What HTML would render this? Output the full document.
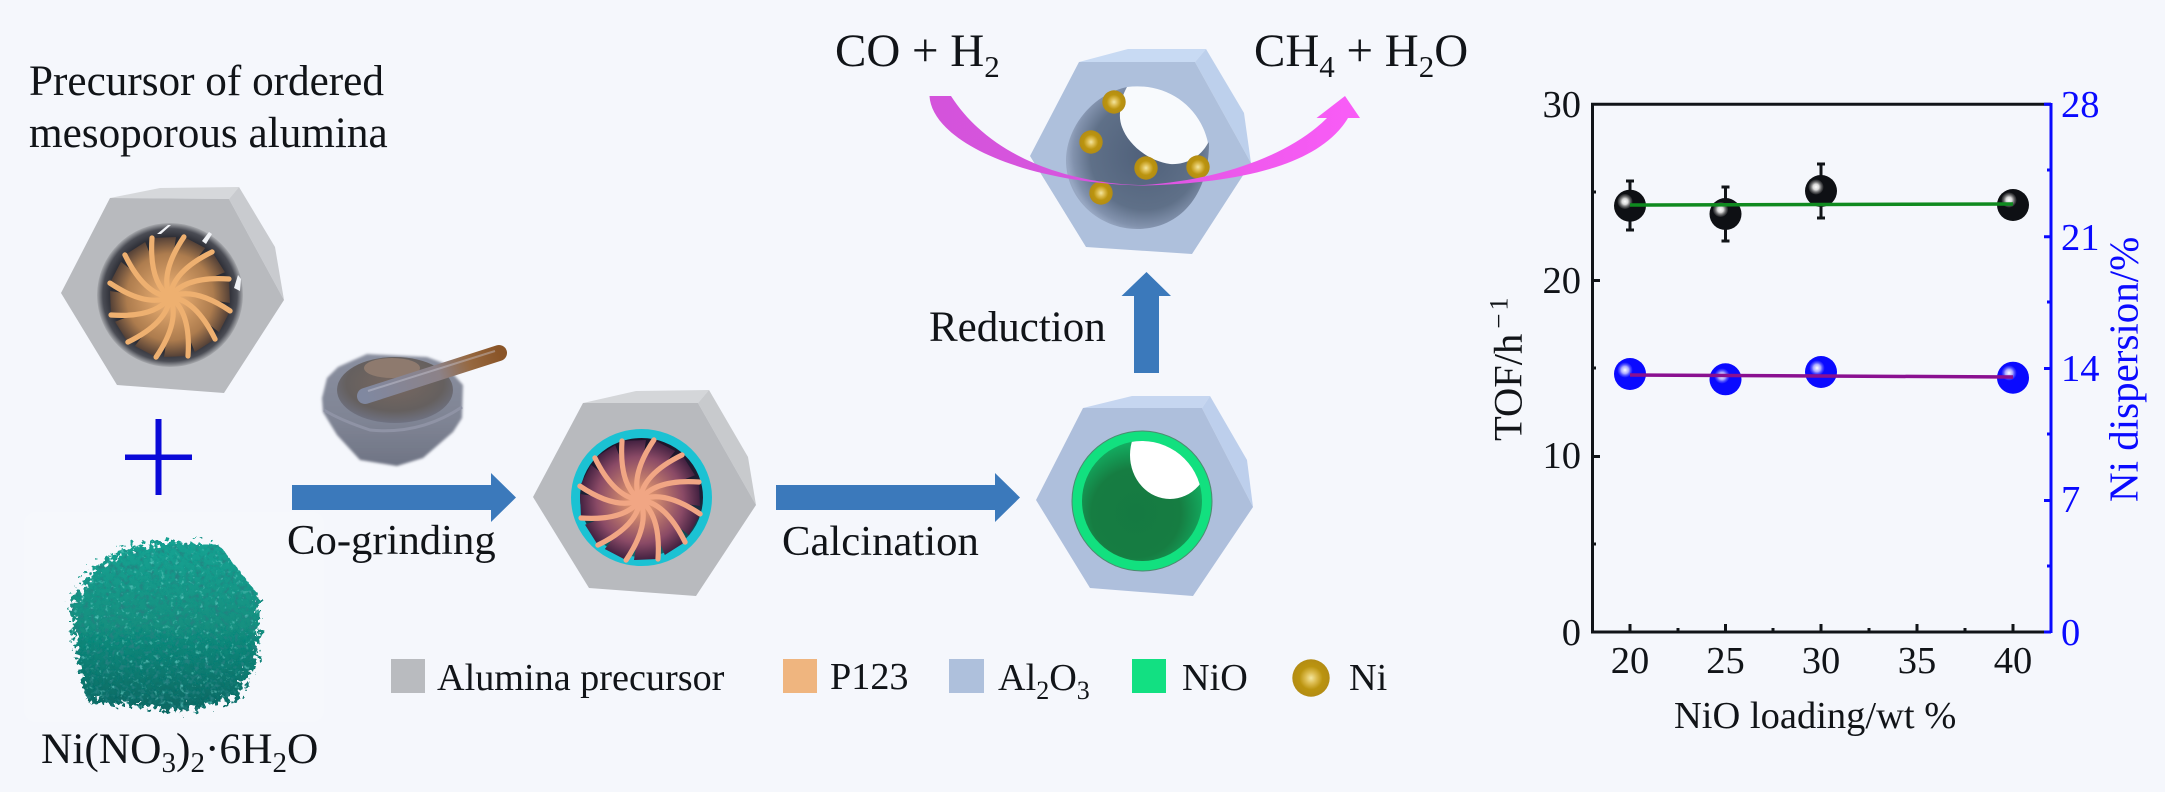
<!DOCTYPE html>
<html><head><meta charset="utf-8"><style>
html,body{margin:0;padding:0;background:#f5f7fc}
svg{display:block}
text{font-family:"Liberation Serif",serif;fill:#111418}
.b{fill:#0a0aff}
</style></head><body>
<svg width="2165" height="792" viewBox="0 0 2165 792" xmlns="http://www.w3.org/2000/svg">
<defs>
<radialGradient id="ni" cx=".5" cy=".5" r=".5"><stop offset="0" stop-color="#f3e6a0"/><stop offset=".3" stop-color="#dcbc50"/><stop offset=".62" stop-color="#bb940f"/><stop offset="1" stop-color="#b38c14"/></radialGradient>
<radialGradient id="in1" cx=".5" cy=".5" r=".5"><stop offset="0" stop-color="#33282a"/><stop offset=".8" stop-color="#2c2d35"/><stop offset=".92" stop-color="#4a4c54"/><stop offset="1" stop-color="#a8aaae"/></radialGradient>
<radialGradient id="w1" gradientUnits="userSpaceOnUse" cx="0" cy="0" r="62"><stop offset=".2" stop-color="#e0a66c"/><stop offset=".7" stop-color="#ad7c4e"/><stop offset="1" stop-color="#4a3a34"/></radialGradient>
<radialGradient id="w2" gradientUnits="userSpaceOnUse" cx="0" cy="0" r="62"><stop offset=".2" stop-color="#d8906e"/><stop offset=".7" stop-color="#8a4a66"/><stop offset="1" stop-color="#3a1c3c"/></radialGradient>
<linearGradient id="in2" x1="0" y1="0" x2="0" y2="1"><stop offset="0" stop-color="#1e1428"/><stop offset=".5" stop-color="#1d2036"/><stop offset=".8" stop-color="#0e4f58"/><stop offset="1" stop-color="#0f7378"/></linearGradient>
<radialGradient id="in3" cx=".45" cy=".6" r=".62"><stop offset="0" stop-color="#157a42"/><stop offset=".6" stop-color="#167d42"/><stop offset="1" stop-color="#12b566"/></radialGradient>
<radialGradient id="in4" gradientUnits="userSpaceOnUse" cx="1145" cy="155" r="78"><stop offset="0" stop-color="#4f607a"/><stop offset=".7" stop-color="#5f7088"/><stop offset=".92" stop-color="#8292ad"/><stop offset="1" stop-color="#97a7c2"/></radialGradient>
<linearGradient id="mag" x1="0" y1="0" x2="1" y2="0"><stop offset="0" stop-color="#d453db"/><stop offset=".5" stop-color="#d955e0"/><stop offset=".75" stop-color="#f059ee"/><stop offset="1" stop-color="#f95cf7"/></linearGradient>
<radialGradient id="hl"><stop offset="0" stop-color="#fff"/><stop offset=".4" stop-color="#d8d8d8"/><stop offset="1" stop-color="#777" stop-opacity=".2"/></radialGradient>
<radialGradient id="hlb"><stop offset="0" stop-color="#fff"/><stop offset=".5" stop-color="#a8a8ff"/><stop offset="1" stop-color="#5050ff" stop-opacity=".2"/></radialGradient>
<linearGradient id="cry" x1="0" y1="0" x2="0" y2="1"><stop offset="0" stop-color="#17a292"/><stop offset=".5" stop-color="#128f7f"/><stop offset="1" stop-color="#0c6762"/></linearGradient>
<linearGradient id="pes" gradientUnits="userSpaceOnUse" x1="365" y1="396" x2="499" y2="353"><stop offset="0" stop-color="#8088a0"/><stop offset=".55" stop-color="#8c8288"/><stop offset=".78" stop-color="#966840"/><stop offset="1" stop-color="#8a5528"/></linearGradient>
<linearGradient id="bowl" x1="0" y1="0" x2="0" y2="1"><stop offset="0" stop-color="#8a8f9f"/><stop offset=".6" stop-color="#7f8494"/><stop offset="1" stop-color="#6f7484"/></linearGradient>
<radialGradient id="bin" cx=".5" cy=".4" r=".6"><stop offset="0" stop-color="#786860"/><stop offset=".7" stop-color="#65605f"/><stop offset="1" stop-color="#6f7282"/></radialGradient>
<filter id="rough" x="-15%" y="-15%" width="130%" height="130%">
<feTurbulence type="fractalNoise" baseFrequency=".2" numOctaves="3" seed="7" result="n"/>
<feDisplacementMap in="SourceGraphic" in2="n" scale="22" result="d"/>
<feColorMatrix in="n" type="matrix" values="0 0 0 0 .02  0 0 0 0 .22  0 0 0 0 .22  3 0 0 0 -1.5" result="s"/>
<feComposite in="s" in2="d" operator="in" result="sd"/>
<feColorMatrix in="n" type="matrix" values="0 0 0 0 .12  0 0 0 0 .68  0 0 0 0 .62  0 2.4 0 0 -1.55" result="l"/>
<feComposite in="l" in2="d" operator="in" result="ld"/>
<feMerge><feMergeNode in="d"/><feMergeNode in="sd"/><feMergeNode in="ld"/></feMerge>
</filter>
<filter id="soft"><feGaussianBlur stdDeviation="1.2"/></filter>
<path id="wedge1" fill="url(#w1)" d="M0,0C-14,-10 -20,-30 -18,-59L6,-60C3,-40 0,-20 0,0Z"/>
<path id="wedge2" fill="url(#w2)" d="M0,0C-14,-10 -20,-30 -18,-59L6,-60C3,-40 0,-20 0,0Z"/>
<path id="blade" fill="none" stroke-width="5.2" stroke-linecap="round" d="M0,0C-14,-10 -20,-30 -18,-59"/>
<g id="sw1">
<use href="#wedge1"/><use href="#wedge1" transform="rotate(30)"/><use href="#wedge1" transform="rotate(60)"/><use href="#wedge1" transform="rotate(90)"/><use href="#wedge1" transform="rotate(120)"/><use href="#wedge1" transform="rotate(150)"/><use href="#wedge1" transform="rotate(180)"/><use href="#wedge1" transform="rotate(210)"/><use href="#wedge1" transform="rotate(240)"/><use href="#wedge1" transform="rotate(270)"/><use href="#wedge1" transform="rotate(300)"/><use href="#wedge1" transform="rotate(330)"/>
</g>
<g id="sw2">
<use href="#wedge2"/><use href="#wedge2" transform="rotate(30)"/><use href="#wedge2" transform="rotate(60)"/><use href="#wedge2" transform="rotate(90)"/><use href="#wedge2" transform="rotate(120)"/><use href="#wedge2" transform="rotate(150)"/><use href="#wedge2" transform="rotate(180)"/><use href="#wedge2" transform="rotate(210)"/><use href="#wedge2" transform="rotate(240)"/><use href="#wedge2" transform="rotate(270)"/><use href="#wedge2" transform="rotate(300)"/><use href="#wedge2" transform="rotate(330)"/>
</g>
<g id="bl">
<use href="#blade"/><use href="#blade" transform="rotate(30)"/><use href="#blade" transform="rotate(60)"/><use href="#blade" transform="rotate(90)"/><use href="#blade" transform="rotate(120)"/><use href="#blade" transform="rotate(150)"/><use href="#blade" transform="rotate(180)"/><use href="#blade" transform="rotate(210)"/><use href="#blade" transform="rotate(240)"/><use href="#blade" transform="rotate(270)"/><use href="#blade" transform="rotate(300)"/><use href="#blade" transform="rotate(330)"/>
</g>
<clipPath id="c3"><circle cx="1142" cy="501" r="60"/></clipPath>
</defs>
<rect width="2165" height="792" fill="#f5f7fc"/>

<!-- Left text -->
<text x="29" y="95" font-size="43.2">Precursor of ordered</text>
<text x="29" y="147" font-size="43.2">mesoporous alumina</text>

<!-- Hex 1 -->
<polygon fill="#d6d8db" points="110,198 160,188 239,187 229,199"/>
<polygon fill="#c9cbcf" points="229,199 239,187 275,247 284,300"/>
<polygon fill="#b8babe" points="110,198 229,199 284,300 224,393 117,385 61,293"/>
<ellipse cx="170" cy="295" rx="73" ry="72" fill="url(#in1)"/>
<g transform="translate(170,297)"><use href="#sw1"/><g stroke="#eeb070" fill="#eeb070"><use href="#bl"/><circle r="7" stroke="none"/></g></g>
<polygon fill="#f0f2f6" points="157,234 168,225 171,225 161,234"/>
<polygon fill="#f0f2f6" points="202,241 209,232 212,234 206,244"/>
<polygon fill="#f0f2f6" points="234,288 238,275 241,279 240,291"/>

<!-- Plus -->
<rect x="155.5" y="419" width="6" height="76" fill="#0a0ad8"/>
<rect x="125" y="454.5" width="67" height="5.5" fill="#0a0ad8"/>

<!-- Crystals -->
<rect x="24" y="512" width="300" height="210" rx="12" fill="#f6f8fc"/>
<path fill="url(#cry)" filter="url(#rough)" d="M172,541L219,545L233,563L259,596L259,636L257,663L237,698L181,711L87,701L75,647L71,603L93,569L124,549Z"/>

<text x="41" y="763" font-size="43.4">Ni(NO<tspan font-size="29" dy="9">3</tspan><tspan dy="-9">)</tspan><tspan font-size="29" dy="9">2</tspan><tspan dy="-9">·6H</tspan><tspan font-size="29" dy="9">2</tspan><tspan dy="-9">O</tspan></text>

<!-- Mortar -->
<polygon fill="url(#bowl)" filter="url(#soft)" points="322,398 327,378 338,367 367,354 427,357 443,363 463,385 462,418 453,432 423,458 397,466 360,460 337,435 323,412"/>
<ellipse cx="395" cy="390" rx="58" ry="33" fill="url(#bin)"/>
<path d="M324,410Q340,420 370,430Q420,435 462,407" fill="none" stroke="#8f93a5" stroke-width="3"/>
<ellipse cx="392" cy="368" rx="28" ry="10" fill="#8e7a6e"/>
<path d="M365,396L499,353" stroke="url(#pes)" stroke-width="16" stroke-linecap="round" fill="none"/>
<path d="M368,391L495,351" stroke="#cfcfdc" stroke-width="2" stroke-opacity=".4" fill="none"/>

<!-- Co-grinding arrow -->
<polygon fill="#3b79bb" points="292,485 491,485 491,473 516,497.5 491,522 491,510 292,510"/>
<text x="287" y="554" font-size="42.7">Co-grinding</text>

<!-- Hex 2 -->
<polygon fill="#d4d6d9" points="583,403 636,391 709,390 698,403"/>
<polygon fill="#c8cacd" points="698,403 709,390 748,457 756,505"/>
<polygon fill="#b8babe" points="583,403 698,403 756,505 696,596 589,588 533,497"/>
<ellipse cx="641.5" cy="497.5" rx="66" ry="64" fill="url(#in2)" stroke="#1bc2d3" stroke-width="9"/>
<g transform="translate(640,500)"><use href="#sw2"/><g stroke="#f1a684" fill="#f1a684"><use href="#bl"/><circle r="7" stroke="none"/></g></g>

<!-- Calcination arrow -->
<polygon fill="#3b79bb" points="776,485 995,485 995,473 1020,497.5 995,522 995,510 776,510"/>
<text x="782" y="555" font-size="42.7">Calcination</text>

<!-- Hex 3 -->
<polygon fill="#c6d6f0" points="1083,408 1132,396 1210,396 1202,408"/>
<polygon fill="#bdcfec" points="1202,408 1210,396 1247,460 1253,507"/>
<polygon fill="#aebfdc" points="1083,408 1202,408 1253,507 1193,596 1090,588 1036,500"/>
<circle cx="1142" cy="501" r="70.5" fill="#4e8a70"/>
<circle cx="1142" cy="501" r="69.5" fill="#12e07f"/>
<circle cx="1142" cy="501" r="60" fill="url(#in3)"/>
<g clip-path="url(#c3)"><ellipse cx="1170" cy="455" rx="40" ry="44" fill="#fff"/></g>

<!-- Reduction arrow -->
<polygon fill="#3b79bb" points="1134,373 1134,296 1121.5,296 1146.5,272 1171,296 1159,296 1159,373"/>
<text x="929" y="341" font-size="43">Reduction</text>

<!-- Hex 4 -->
<polygon fill="#c8daf3" points="1079,62 1128,49 1206,49 1195,62"/>
<polygon fill="#bdd0ec" points="1195,62 1206,49 1244,113 1251,163"/>
<polygon fill="#aec0dc" points="1079,62 1195,62 1251,163 1192,254 1086,247 1030,156"/>
<path fill="url(#in4)" d="M1127,87C1090,95 1066,130 1066,160C1066,200 1100,229 1137,229C1180,229 1209,195 1209,143Z"/>
<path fill="#f8fafd" d="M1127,87C1165,82 1200,105 1208,143C1200,158 1185,165 1170,164C1142,160 1118,135 1120,113C1120,103 1123,94 1127,87Z"/>
<circle cx="1114" cy="102" r="11.7" fill="url(#ni)"/>
<circle cx="1091" cy="142" r="11.7" fill="url(#ni)"/>
<circle cx="1146" cy="168" r="11.7" fill="url(#ni)"/>
<circle cx="1198" cy="167" r="11.7" fill="url(#ni)"/>
<circle cx="1101" cy="193" r="11.7" fill="url(#ni)"/>
<path fill="url(#mag)" d="M929.5,96C932,140 1020,183 1144,185.5C1240,183 1320,165 1348,118L1360,118L1345,96L1316.5,118L1327,118C1290,155 1220,180 1144,185C1100,185 1000,172 951,96Z"/>

<text x="835" y="66" font-size="47">CO + H<tspan font-size="31" dy="11">2</tspan></text>
<text x="1254" y="66" font-size="47">CH<tspan font-size="31" dy="11">4</tspan><tspan dy="-11"> + H</tspan><tspan font-size="31" dy="11">2</tspan><tspan dy="-11">O</tspan></text>

<!-- Legend -->
<rect x="391" y="659" width="34" height="34" fill="#b9bbbf"/>
<text x="437" y="690" font-size="38.2">Alumina precursor</text>
<rect x="783" y="659" width="34" height="34" fill="#efb57f"/>
<text x="830" y="689" font-size="38.2">P123</text>
<rect x="949" y="659" width="35" height="34" fill="#aec0dc"/>
<text x="998" y="690" font-size="38.2">Al<tspan font-size="26" dy="9">2</tspan><tspan dy="-9">O</tspan><tspan font-size="26" dy="9">3</tspan></text>
<rect x="1132" y="659" width="34" height="34" fill="#12e082"/>
<text x="1182" y="690" font-size="38.2">NiO</text>
<circle cx="1311" cy="678" r="18.7" fill="url(#ni)"/>
<text x="1349" y="690" font-size="38.2">Ni</text>

<!-- Chart axes -->
<g fill="none" stroke="#111418" stroke-width="3">
<path d="M1592.5,632V104.3H2051"/>
<path d="M1591,632H2051"/>
<path d="M1592.5,280.5H1600M1592.5,456.5H1600M1592.5,192H1596M1592.5,368H1596M1592.5,544H1596"/>
<path d="M1630,632V624M1725.5,632V624M1821,632V624M1917,632V624M2013,632V624M1678,632V628M1773,632V628M1869,632V628M1965,632V628"/>
</g>
<g fill="none" stroke="#0a0aff" stroke-width="3">
<path d="M2051,103V633"/>
<path d="M2044,104.3H2051M2044,236.7H2051M2044,368.5H2051M2044,500.5H2051M2044,632H2051M2047,170H2051M2047,302H2051M2047,434H2051M2047,566H2051"/>
</g>

<!-- Error bars -->
<g fill="none" stroke="#111418" stroke-width="3">
<path d="M1630,181V230M1626,181H1634M1626,230H1634"/>
<path d="M1725.5,187V241M1721.5,187H1729.5M1721.5,241H1729.5"/>
<path d="M1821,164V218M1817,164H1825M1817,218H1825"/>
</g>
<!-- Markers -->
<g fill="#0e1014">
<circle cx="1630" cy="205.7" r="16"/><circle cx="1725.5" cy="214" r="16"/><circle cx="1821" cy="191" r="16"/><circle cx="2013" cy="205" r="16"/>
</g>
<g fill="url(#hl)">
<circle cx="1625" cy="201.5" r="7.5"/><circle cx="1720.5" cy="209.5" r="7.5"/><circle cx="1816" cy="187" r="7.5"/><circle cx="2009" cy="200" r="7.5"/>
</g>
<g fill="#0a0aff">
<circle cx="1630" cy="374" r="16"/><circle cx="1725.5" cy="379.3" r="16"/><circle cx="1821" cy="372" r="16"/><circle cx="2013" cy="377.7" r="16"/>
</g>
<g fill="url(#hlb)">
<circle cx="1625" cy="370" r="7.5"/><circle cx="1722" cy="376" r="7.5"/><circle cx="1817" cy="368" r="7.5"/><circle cx="2009" cy="373" r="7.5"/>
</g>
<path d="M1630,205L2013,204" stroke="#0f8a1f" stroke-width="3.5" fill="none"/>
<path d="M1630,375L2013,377" stroke="#8a1090" stroke-width="3.5" fill="none"/>

<!-- Axis labels -->
<g font-size="38.5" text-anchor="end">
<text x="1581" y="117">30</text><text x="1581" y="293">20</text><text x="1581" y="468">10</text><text x="1581" y="645">0</text>
</g>
<g font-size="38.5">
<text x="2061" y="117" class="b">28</text><text x="2061" y="250" class="b">21</text><text x="2061" y="381" class="b">14</text><text x="2061" y="512" class="b">7</text><text x="2061" y="645" class="b">0</text>
</g>
<g font-size="38.5" text-anchor="middle">
<text x="1630" y="673">20</text><text x="1725.5" y="673">25</text><text x="1821" y="673">30</text><text x="1917" y="673">35</text><text x="2013" y="673">40</text>
</g>
<text x="1674" y="728" font-size="38.5">NiO loading/wt %</text>
<text transform="translate(1521.5,441) rotate(-90)" font-size="40.5">TOF/h<tspan font-size="27" dy="-14" dx="5">−</tspan><tspan font-size="26" dx="3">1</tspan></text>
<text transform="translate(2137.5,502) rotate(-90)" font-size="41" class="b">Ni dispersion/%</text>
</svg>
</body></html>
